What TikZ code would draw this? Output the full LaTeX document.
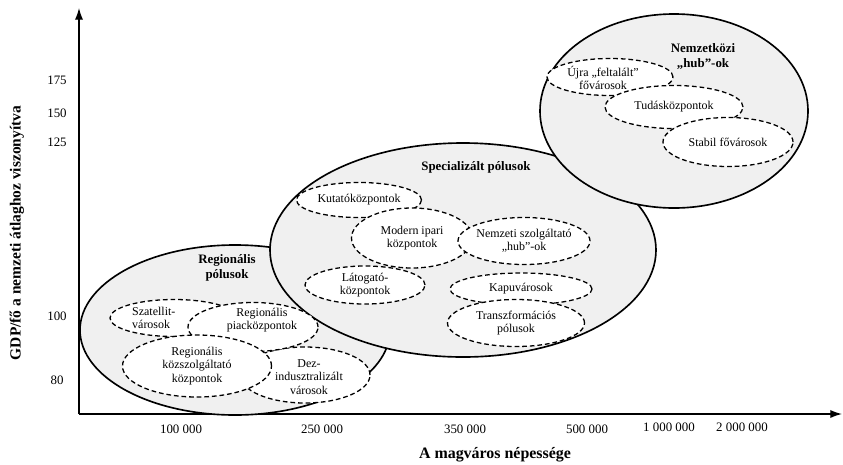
\documentclass[tikz,border=0pt]{standalone}
\usepackage{fontspec}
\setmainfont{Liberation Serif}
\usetikzlibrary{shapes.geometric,arrows.meta}

\begin{document}
\begin{tikzpicture}[
    x=0.03cm, y=-0.03cm,
    pole/.style={ellipse, draw, line width=1.4pt, fill=gray!12, inner sep=0pt},
    city/.style={ellipse, draw, line width=1.1pt, dash pattern=on 4pt off 2.5pt, fill=white, inner xsep=-6pt, inner ysep=-4pt, align=center, font=\fontsize{10.2}{11.3}\selectfont},
    citytext/.style={align=center, inner sep=0pt, font=\fontsize{10.2}{11.3}\selectfont},
    polename/.style={align=center, font=\fontsize{11}{12.8}\selectfont\bfseries},
    ticklabel/.style={font=\fontsize{11}{12}\selectfont},
    axistitle/.style={font=\fontsize{13.6}{16}\selectfont\bfseries},
    axisline/.style={line width=1.1pt, -{Latex[length=10pt, width=7pt]}}
]
\useasboundingbox (0,0) rectangle (843,464);

% Axes
\coordinate (origin) at (79,414);
\coordinate (ytop) at (79,8);
\coordinate (xend) at (842,414);
\draw[axisline] (origin) -- (ytop);
\draw[axisline] (origin) -- (xend);

% Tick labels on the y axis
\node[ticklabel] (y175) at (57,80) {175};
\node[ticklabel] (y150) at (57,113) {150};
\node[ticklabel] (y125) at (57,142) {125};
\node[ticklabel] (y100) at (57,316) {100};
\node[ticklabel] (y80) at (57,380) {80};

% Tick labels on the x axis
\node[ticklabel] (x100k) at (181,429) {100 000};
\node[ticklabel] (x250k) at (322,429) {250 000};
\node[ticklabel] (x350k) at (465,429) {350 000};
\node[ticklabel] (x500k) at (587,429) {500 000};
\node[ticklabel] (x1m) at (669,427) {1 000 000};
\node[ticklabel] (x2m) at (742,427) {2 000 000};

% Axis titles
\node[axistitle] (xtitle) at (495,455) {A magváros népessége};
\node[axistitle, font=\fontsize{13.2}{16}\selectfont\bfseries, rotate=90] (ytitle) at (17,233) {GDP/fő a nemzeti átlaghoz viszonyítva};

% The three kinds of poles
\node[pole, minimum width=9.3cm, minimum height=5.1cm] (regional) at (235,330) {};
\node[pole, minimum width=11.58cm, minimum height=6.42cm] (special) at (463,250) {};
\node[pole, minimum width=8.04cm, minimum height=5.82cm] (intl) at (674,111) {};

\node[polename] (regname) at (227,268) {Regionális\\pólusok};
\node[polename] (specname) at (476,167) {Specializált pólusok};
\node[polename] (intlname) at (703,57) {Nemzetközi\\„hub”-ok};

% Regional poles
\node[city, minimum width=3.84cm, minimum height=1.11cm] (satellite) at (174,318) {};
\node[citytext, align=left, anchor=west] (satellitetext) at (132,318) {Szatellit-\\városok};
\node[city, minimum width=3.9cm, minimum height=1.68cm] (declining) at (305,375) {};
\node[citytext] (decliningtext) at (309,377) {Dez-\\indusztralizált\\városok};
\node[city, minimum width=3.9cm, minimum height=1.47cm] (market) at (253,327) {};
\node[citytext] (markettext) at (262,320) {Regionális\\piacközpontok};
\node[city, minimum width=4.47cm, minimum height=1.86cm] (public) at (197,366) {Regionális\\közszolgáltató\\központok};

% Specialised poles
\node[city, minimum width=3.75cm, minimum height=1.05cm] (research) at (359,200) {Kutatóközpontok};
\node[city, minimum width=3.63cm, minimum height=1.8cm] (industry) at (412,238) {Modern ipari\\központok};
\node[city, minimum width=3.96cm, minimum height=1.41cm] (services) at (524,241) {Nemzeti szolgáltató\\„hub”-ok};
\node[city, minimum width=3.6cm, minimum height=1.14cm] (visitor) at (365,285) {Látogató-\\központok};
\node[city, minimum width=4.26cm, minimum height=0.96cm] (gateway) at (521,289) {Kapuvárosok};
\node[city, minimum width=4.11cm, minimum height=1.41cm] (transform) at (516,323) {Transzformációs\\pólusok};

% International hubs
\node[city, minimum width=3.78cm, minimum height=1.11cm] (reinvented) at (610,77) {};
\node[citytext] (reinventedtext) at (603,78) {Újra „feltalált”\\fővárosok};
\node[city, minimum width=4.14cm, minimum height=1.29cm] (knowledge) at (674,107) {Tudásközpontok};
\node[city, minimum width=3.9cm, minimum height=1.47cm] (stable) at (728,142) {Stabil fővárosok};

\end{tikzpicture}
\end{document}
